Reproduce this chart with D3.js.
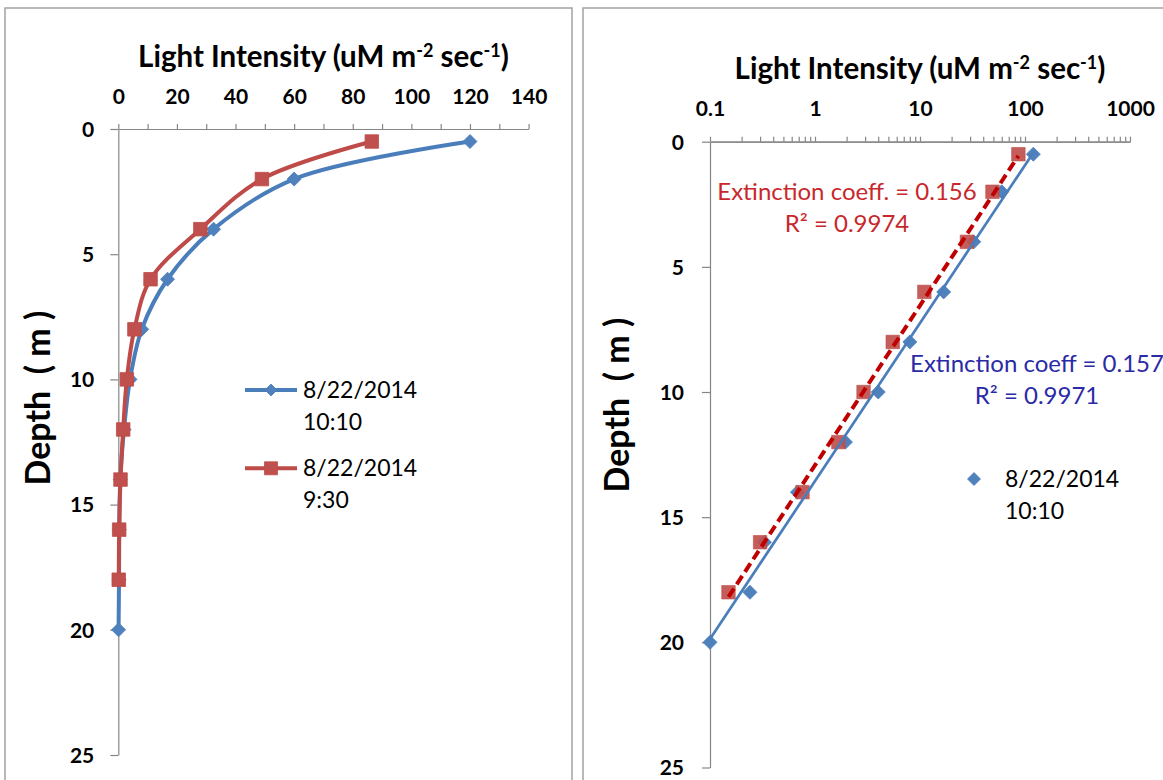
<!DOCTYPE html>
<html>
<head>
<meta charset="utf-8">
<script src="https://cdn.jsdelivr.net/npm/d3@7"></script>
<style>
  body { margin: 0; background: #fff; }
  svg { display: block; }
  text { font-family: Lato, "Open Sans", "DejaVu Sans", sans-serif; }
</style>
</head>
<body>
<svg id="chart" width="1163" height="780"></svg>
<script>
// ---------------- data ----------------
const depth1010 = [0.5, 2, 4, 6, 8, 10, 12, 14, 16, 18, 20];
const light1010 = [120, 60, 32.5, 16.8, 8, 4, 1.95, 0.68, 0.33, 0.24, 0.1];
const depth0930 = [0.5, 2, 4, 6, 8, 10, 12, 14, 16, 18];
const light0930 = [86.5, 49, 28, 11, 5.5, 2.9, 1.67, 0.76, 0.30, 0.15];
const linearTicks = [0, 20, 40, 60, 80, 100, 120, 140];
const linearMinor = [10, 30, 50, 70, 90, 110, 130];
const logTicks = [0.1, 1, 10, 100, 1000];
const logMinor = [0.2,0.3,0.4,0.5,0.6,0.7,0.8,0.9, 2,3,4,5,6,7,8,9, 20,30,40,50,60,70,80,90, 200,300,400,500,600,700,800,900];
const depthTicks = [0, 5, 10, 15, 20, 25];
const legendLabels = [["8/22/2014", "10:10"], ["8/22/2014", "9:30"]];
const fitLabels0930 = ["Extinction coeff. = 0.156", "R² = 0.9974"];
const fitLabels1010 = ["Extinction coeff = 0.157", "R² = 0.9971"];

const blueLine = "#4A7EBB", blueFill = "#4F81BD";
const redLine = "#BE4B48", redFill = "#C0504D";
const axisGray = "#868686";

const svg = d3.select("#chart");
svg.append("rect").attr("width", 1163).attr("height", 780).attr("fill", "#fff");

// panel borders
svg.append("rect").attr("x", 5).attr("y", 8).attr("width", 567).attr("height", 800)
  .attr("fill", "none").attr("stroke", "#a3a3a3").attr("stroke-width", 1.5);
svg.append("rect").attr("x", 583).attr("y", 8).attr("width", 620).attr("height", 800)
  .attr("fill", "none").attr("stroke", "#a3a3a3").attr("stroke-width", 1.5);

const s1010 = depth1010.map((d, i) => ({ depth: d, light: light1010[i] }));
const s0930 = depth0930.map((d, i) => ({ depth: d, light: light0930[i] }));

function diamond(sel, size) {
  const h = size / 2;
  return sel.attr("d", `M0,${-h}L${h},0L0,${h}L${-h},0Z`);
}
function square(sel, size) {
  const h = size / 2;
  return sel.attr("d", `M${-h},${-h}H${h}V${h}H${-h}Z`);
}

function styleAxis(g) {
  g.select(".domain").attr("stroke", axisGray).attr("stroke-width", 1.2);
  g.selectAll(".tick line").attr("stroke", axisGray).attr("stroke-width", 1.2);
  g.selectAll(".tick text").attr("fill", "#000").attr("font-weight", "bold")
    .attr("font-size", 21).attr("font-family", "Lato, 'Open Sans', sans-serif");
}

function title(g, x, y) {
  const t = g.append("text").attr("x", x).attr("y", y).attr("text-anchor", "middle")
    .attr("dy", "0.35em").attr("font-weight", "bold").attr("font-size", 29.5).attr("fill", "#000");
  t.append("tspan").text("Light Intensity (uM m");
  t.append("tspan").attr("font-size", 18).attr("dy", -10).text("-2");
  t.append("tspan").attr("dy", 10).text(" sec");
  t.append("tspan").attr("font-size", 18).attr("dy", -10).text("-1");
  t.append("tspan").attr("dy", 10).text(")");
}

function depthLabel(g, x, y) {
  g.append("text").attr("transform", `translate(${x},${y}) rotate(-90)`)
    .attr("text-anchor", "middle").attr("dy", "0.35em")
    .attr("font-weight", "bold").attr("font-size", 34).attr("fill", "#000")
    .attr("xml:space", "preserve").style("white-space", "pre")
    .text("Depth  ( m )");
}

// ---------------- left chart ----------------
{
  const x = d3.scaleLinear().domain([0, 140]).range([118.3, 528.6]);
  const y = d3.scaleLinear().domain([0, 25]).range([129, 755]);
  const g = svg.append("g");

  const xMinor = g.append("g").attr("transform", `translate(0,${y(0)})`)
    .call(d3.axisTop(x).tickValues(linearMinor).tickSize(5).tickSizeOuter(0).tickFormat(""));
  styleAxis(xMinor);
  const xa = g.append("g").attr("transform", `translate(0,${y(0)})`)
    .call(d3.axisTop(x).tickValues(linearTicks).tickSize(5).tickSizeOuter(0).tickFormat(d3.format("d")));
  styleAxis(xa);
  xa.selectAll(".tick text").attr("y", -32).attr("dy", "0.35em");

  const ya = g.append("g").attr("transform", `translate(${x(0)},0)`)
    .call(d3.axisLeft(y).tickValues(depthTicks).tickSize(8).tickSizeOuter(0).tickPadding(16));
  styleAxis(ya);
  ya.selectAll(".tick text").attr("dy", "0.35em");

  title(g, (x.range()[0] + x.range()[1]) / 2, 56.7);
  depthLabel(g, 38, 398);

  const line = d3.line().x(d => x(d.light)).y(d => y(d.depth)).curve(d3.curveCatmullRom.alpha(0.5));

  g.append("path").datum(s1010).attr("d", line).attr("fill", "none")
    .attr("stroke", blueLine).attr("stroke-width", 4).attr("stroke-linejoin", "round");
  g.selectAll(".m1010").data(s1010).join("path").attr("class", "m1010")
    .call(diamond, 14).attr("transform", d => `translate(${x(d.light)},${y(d.depth)})`)
    .attr("fill", blueFill).attr("stroke", blueLine).attr("stroke-width", 0.8);

  g.append("path").datum(s0930).attr("d", line).attr("fill", "none")
    .attr("stroke", redLine).attr("stroke-width", 4).attr("stroke-linejoin", "round");
  g.selectAll(".m0930").data(s0930).join("path").attr("class", "m0930")
    .call(square, 13.5).attr("transform", d => `translate(${x(d.light)},${y(d.depth)})`)
    .attr("fill", redFill).attr("stroke", redLine).attr("stroke-width", 0.8);

  // legend
  const lg = g.append("g");
  const legY = [390, 468.3];
  const cols = [[blueLine, blueFill, diamond, 12], [redLine, redFill, square, 13]];
  legendLabels.forEach((lab, i) => {
    const [lc, fc, shape, sz] = cols[i];
    lg.append("line").attr("x1", 245).attr("x2", 297).attr("y1", legY[i]).attr("y2", legY[i])
      .attr("stroke", lc).attr("stroke-width", 4);
    lg.append("path").call(shape, sz).attr("transform", `translate(271,${legY[i]})`)
      .attr("fill", fc).attr("stroke", lc).attr("stroke-width", 0.8);
    const t = lg.append("text").attr("x", 303).attr("y", legY[i]).attr("dy", "0.35em")
      .attr("font-size", 23).attr("fill", "#000");
    t.append("tspan").text(lab[0]);
    t.append("tspan").attr("x", 303).attr("dy", 31.7).text(lab[1]);
  });
}

// ---------------- right chart ----------------
{
  const x = d3.scaleLog().domain([0.1, 1000]).range([710, 1130]);
  const y = d3.scaleLinear().domain([0, 25]).range([141.7, 767.5]);
  const g = svg.append("g");

  const xMinor = g.append("g").attr("transform", `translate(0,${y(0)})`)
    .call(d3.axisTop(x).tickValues(logMinor).tickSize(5).tickSizeOuter(0).tickFormat(""));
  styleAxis(xMinor);
  const xa = g.append("g").attr("transform", `translate(0,${y(0)})`)
    .call(d3.axisTop(x).tickValues(logTicks).tickSize(5).tickSizeOuter(0).tickFormat(d => String(d)));
  styleAxis(xa);
  xa.selectAll(".tick text").attr("y", -33.4).attr("dy", "0.35em");

  const ya = g.append("g").attr("transform", `translate(${x(0.1)},0)`)
    .call(d3.axisLeft(y).tickValues(depthTicks).tickSize(8).tickSizeOuter(0).tickPadding(18));
  styleAxis(ya);
  ya.selectAll(".tick text").attr("dy", "0.35em");

  title(g, (x.range()[0] + x.range()[1]) / 2, 68.3);
  depthLabel(g, 617, 405);

  // logarithmic trendline: depth = a*log10(light) + b
  function fit(s) {
    const xs = s.map(d => Math.log10(d.light)), ys = s.map(d => d.depth);
    const mx = d3.mean(xs), my = d3.mean(ys);
    const a = d3.sum(xs.map((v, i) => (v - mx) * (ys[i] - my))) / d3.sum(xs.map(v => (v - mx) ** 2));
    const b = my - a * mx;
    const [lo, hi] = d3.extent(s, d => d.light);
    return [lo, hi].map(l => ({ light: l, depth: a * Math.log10(l) + b }));
  }
  const line = d3.line().x(d => x(d.light)).y(d => y(d.depth));

  g.selectAll(".r1010").data(s1010).join("path").attr("class", "r1010")
    .call(diamond, 14).attr("transform", d => `translate(${x(d.light)},${y(d.depth)})`)
    .attr("fill", blueFill).attr("stroke", blueLine).attr("stroke-width", 0.8);
  g.selectAll(".r0930").data(s0930).join("path").attr("class", "r0930")
    .call(square, 13.5).attr("transform", d => `translate(${x(d.light)},${y(d.depth)})`)
    .attr("fill", redFill).attr("fill-opacity", 0.92).attr("stroke", redLine).attr("stroke-width", 0.6);

  g.append("path").datum(fit(s1010)).attr("d", line).attr("fill", "none")
    .attr("stroke", blueLine).attr("stroke-width", 2.7);
  g.append("path").datum(fit(s0930)).attr("d", line).attr("fill", "none")
    .attr("stroke", "#C00000").attr("stroke-width", 4).attr("stroke-dasharray", "10,5");

  // fit annotations
  const ann = (labels, cx, y0, color) => {
    labels.forEach((t, i) => {
      g.append("text").attr("x", cx).attr("y", y0 + i * 31.6).attr("dy", "0.35em")
        .attr("text-anchor", "middle").attr("font-size", 24).attr("fill", color).text(t);
    });
  };
  ann(fitLabels0930, 847, 191.7, "#C8282C");
  ann(fitLabels1010, 1037, 364, "#2A2AA6");

  // legend (single entry)
  g.append("path").call(diamond, 13).attr("transform", "translate(974,479)")
    .attr("fill", blueFill).attr("stroke", blueLine).attr("stroke-width", 0.8);
  const t = g.append("text").attr("x", 1005).attr("y", 479).attr("dy", "0.35em")
    .attr("font-size", 23).attr("fill", "#000");
  t.append("tspan").text(legendLabels[0][0]);
  t.append("tspan").attr("x", 1005).attr("dy", 31.7).text(legendLabels[0][1]);
}
</script>
</body>
</html>
